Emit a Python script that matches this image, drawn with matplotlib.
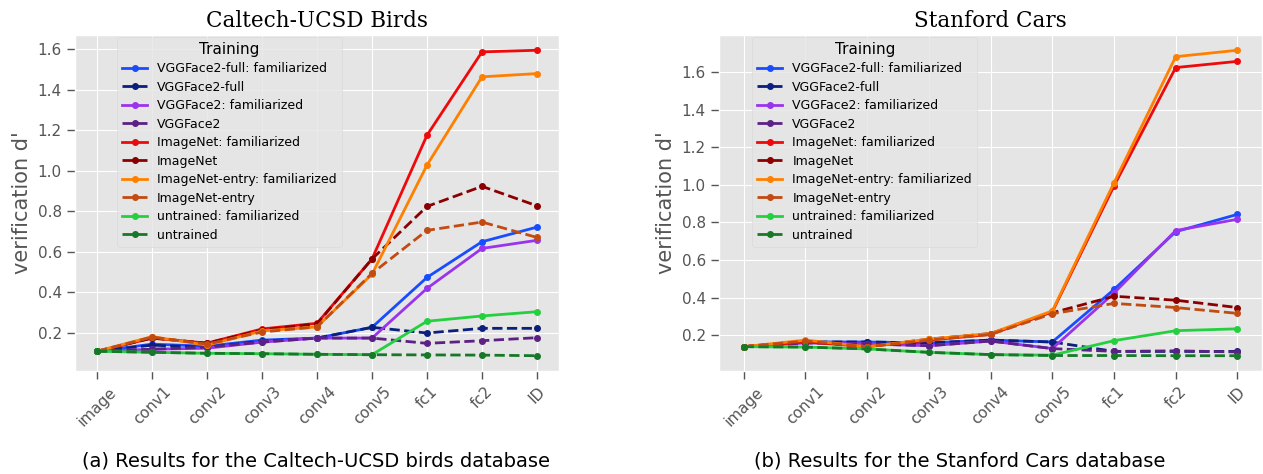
import matplotlib
matplotlib.use("Agg")
import matplotlib.pyplot as plt

layers = ["image", "conv1", "conv2", "conv3", "conv4", "conv5", "fc1", "fc2", "ID"]

series_names = [
    "VGGFace2-full: familiarized", "VGGFace2-full",
    "VGGFace2: familiarized", "VGGFace2",
    "ImageNet: familiarized", "ImageNet",
    "ImageNet-entry: familiarized", "ImageNet-entry",
    "untrained: familiarized", "untrained",
]

# Caltech-UCSD Birds
birds_vggfull_fam = [0.11, 0.145, 0.135, 0.165, 0.175, 0.228, 0.474, 0.650, 0.722]
birds_vggfull = [0.11, 0.140, 0.130, 0.160, 0.175, 0.228, 0.200, 0.223, 0.223]
birds_vgg_fam = [0.11, 0.120, 0.125, 0.155, 0.175, 0.175, 0.420, 0.617, 0.657]
birds_vgg = [0.11, 0.120, 0.130, 0.155, 0.175, 0.175, 0.149, 0.162, 0.177]
birds_imnet_fam = [0.11, 0.175, 0.150, 0.220, 0.248, 0.565, 1.175, 1.586, 1.594]
birds_imnet = [0.11, 0.175, 0.150, 0.215, 0.245, 0.565, 0.824, 0.923, 0.827]
birds_entry_fam = [0.11, 0.182, 0.140, 0.210, 0.230, 0.490, 1.028, 1.463, 1.479]
birds_entry = [0.11, 0.180, 0.145, 0.205, 0.230, 0.494, 0.706, 0.747, 0.671]
birds_untr_fam = [0.11, 0.105, 0.100, 0.098, 0.095, 0.093, 0.258, 0.284, 0.305]
birds_untr = [0.11, 0.105, 0.100, 0.098, 0.095, 0.093, 0.092, 0.091, 0.088]

# Stanford Cars
cars_vggfull_fam = [0.14, 0.165, 0.165, 0.160, 0.175, 0.165, 0.444, 0.751, 0.843]
cars_vggfull = [0.14, 0.165, 0.165, 0.160, 0.175, 0.165, 0.115, 0.115, 0.115]
cars_vgg_fam = [0.14, 0.160, 0.155, 0.145, 0.170, 0.130, 0.425, 0.757, 0.817]
cars_vgg = [0.14, 0.160, 0.155, 0.145, 0.170, 0.130, 0.115, 0.118, 0.112]
cars_imnet_fam = [0.14, 0.165, 0.140, 0.175, 0.205, 0.325, 0.994, 1.623, 1.656]
cars_imnet = [0.14, 0.170, 0.140, 0.180, 0.210, 0.320, 0.408, 0.387, 0.348]
cars_entry_fam = [0.14, 0.175, 0.140, 0.180, 0.210, 0.330, 1.011, 1.681, 1.715]
cars_entry = [0.14, 0.170, 0.140, 0.175, 0.205, 0.315, 0.370, 0.348, 0.317]
cars_untr_fam = [0.14, 0.138, 0.128, 0.110, 0.098, 0.095, 0.172, 0.225, 0.235]
cars_untr = [0.14, 0.138, 0.128, 0.110, 0.098, 0.093, 0.093, 0.092, 0.092]

colors = ["#1a4cff", "#0b1f7c", "#9a33ee", "#5c2185", "#ee0a0a",
          "#8a0000", "#ff8000", "#c24b12", "#24d040", "#17782a"]
styles = ["-", "--"] * 5

birds = [birds_vggfull_fam, birds_vggfull, birds_vgg_fam, birds_vgg, birds_imnet_fam,
         birds_imnet, birds_entry_fam, birds_entry, birds_untr_fam, birds_untr]
cars = [cars_vggfull_fam, cars_vggfull, cars_vgg_fam, cars_vgg, cars_imnet_fam,
        cars_imnet, cars_entry_fam, cars_entry, cars_untr_fam, cars_untr]

plt.style.use("ggplot")
fig = plt.figure(figsize=(12.63, 4.74), dpi=100)
ax1 = fig.add_axes([0.0594, 0.2173, 0.3832, 0.7089])
ax2 = fig.add_axes([0.5693, 0.2173, 0.4300, 0.7089])


def draw(ax, data, title, legend_x):
    for vals, name, c, ls in zip(data, series_names, colors, styles):
        ax.plot(layers, vals, ls, color=c, marker="o", markersize=4,
                linewidth=2, label=name)
    ax.set_title(title, family="DejaVu Serif", fontsize=15.5, color="black", pad=6)
    ax.set_ylabel("verification d'", fontsize=15, color="#555555")
    ax.tick_params(axis="both", labelsize=11, colors="#555555", length=6, width=1,
                   direction="out")
    for lab in ax.get_xticklabels():
        lab.set_rotation(45)
    leg = ax.legend(title="Training", loc="upper left", bbox_to_anchor=(legend_x, 1.0),
                    fontsize=9, title_fontsize=11, borderaxespad=0.15,
                    labelspacing=0.44, framealpha=0.8)
    leg.get_frame().set_edgecolor("#d8d8d8")


draw(ax1, birds, "Caltech-UCSD Birds", 0.083)
draw(ax2, cars, "Stanford Cars", 0.058)

fig.text(0.25, 0.015, "(a) Results for the Caltech-UCSD birds database",
         ha="center", fontsize=14)
fig.text(0.76, 0.015, "(b) Results for the Stanford Cars database",
         ha="center", fontsize=14)

fig.savefig("out.png", dpi=100, facecolor="white")
